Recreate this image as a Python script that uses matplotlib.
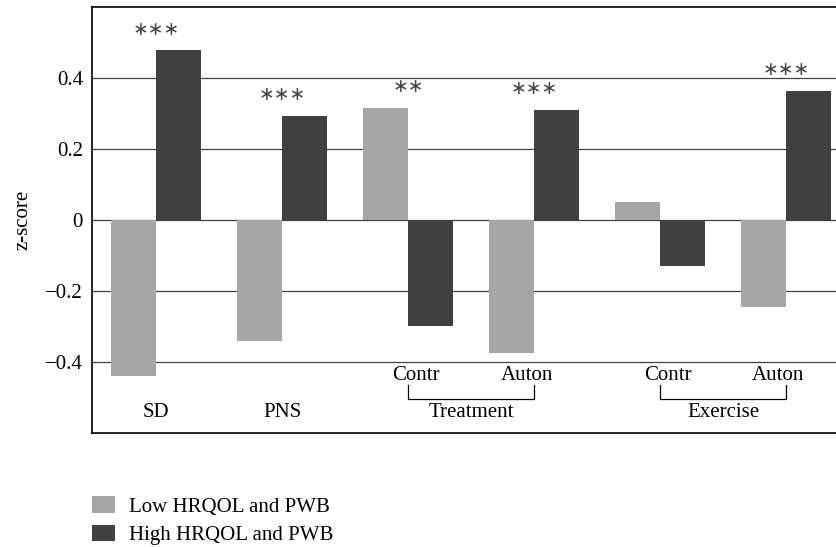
"""
z-score por grupo: bajo vs alto HRQOL y PWB.
"""

import matplotlib
matplotlib.use("Agg")
import matplotlib.pyplot as plt
import numpy as np

COLOR_LOW = "#a6a6a6"
COLOR_HIGH = "#404040"
COLOR_GRID = "#404040"

# datos
grupos = ["SD", "PNS", "Contr", "Auton", "Contr", "Auton"]
z_low = [-0.440, -0.342, 0.316, -0.376, 0.052, -0.244]
z_high = [0.479, 0.294, -0.300, 0.311, -0.129, 0.364]
signif = ["∗∗∗", "∗∗∗", "∗∗", "∗∗∗", "", "∗∗∗"]
y_ticks = [-0.4, -0.2, 0, 0.2, 0.4]
y_tick_labels = ["\u22120.4", "\u22120.2", "0", "0.2", "0.4"]
brackets = [("Treatment", 2, 3), ("Exercise", 4, 5)]

FS = 15
plt.rcParams["font.family"] = ["Liberation Serif", "DejaVu Serif"]

fig = plt.figure(figsize=(8.36, 5.47), dpi=100)
ax = fig.add_axes([0.110, 0.209, 0.9073, 0.7773])

x = np.arange(len(grupos))
ancho = 0.357
ax.bar(x - ancho / 2, z_low, width=ancho, color=COLOR_LOW, label="Low HRQOL and PWB", zorder=2)
ax.bar(x + ancho / 2, z_high, width=ancho, color=COLOR_HIGH, label="High HRQOL and PWB", zorder=2)

for t in y_ticks:
    ax.axhline(t, color=COLOR_GRID, linewidth=0.9, zorder=1)

ax.set_xlim(-0.512, 5.512)
ax.set_ylim(-0.6, 0.6)
ax.set_xticks([])
ax.set_yticks(y_ticks)
ax.set_yticklabels(y_tick_labels, fontsize=FS)
ax.tick_params(axis="y", length=0, pad=6.5)
ax.set_ylabel("z-score", fontsize=FS, labelpad=9)

for lado in ["left", "top", "bottom"]:
    ax.spines[lado].set_linewidth(1.2)
ax.spines["right"].set_visible(False)

# asteriscos de significancia
for xi, lo, hi, s in zip(x, z_low, z_high, signif):
    if s:
        ax.text(xi, max(lo, hi) + 0.06, s, ha="center", va="center",
                fontsize=13.5, family="DejaVu Sans", color="#444444")

# etiquetas de grupo dentro del eje
ax.text(0, -0.543, "SD", ha="center", va="center", fontsize=FS)
ax.text(1, -0.543, "PNS", ha="center", va="center", fontsize=FS)
for nombre, a, b in brackets:
    ax.text(a + 0.06, -0.44, grupos[a], ha="center", va="center", fontsize=FS)
    ax.text(b - 0.06, -0.44, grupos[b], ha="center", va="center", fontsize=FS)
    ax.plot([a, a, b, b], [-0.466, -0.505, -0.505, -0.466], color="black", linewidth=0.9)
    ax.text((a + b) / 2, -0.543, nombre, ha="center", va="center", fontsize=FS)

fig.legend(loc="upper left", bbox_to_anchor=(92 / 836, 1 - 496 / 547), frameon=False,
           fontsize=FS, handlelength=1.1, handleheight=0.87, handletextpad=0.67,
           labelspacing=0.38, borderpad=0, borderaxespad=0)

fig.savefig("out.png", dpi=100)
